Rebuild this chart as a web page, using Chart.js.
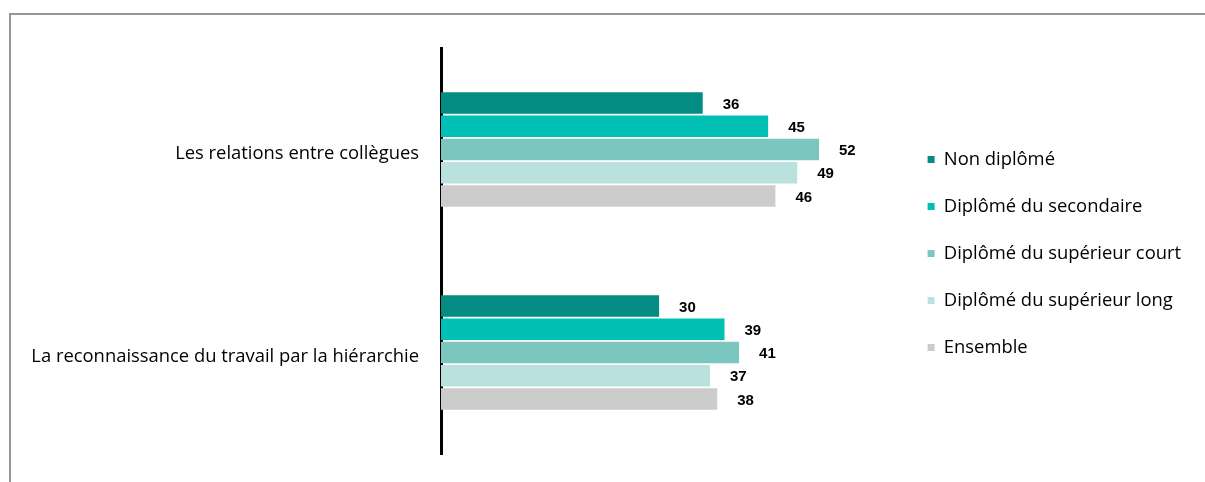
<!DOCTYPE html>
<html>
<head>
<meta charset="utf-8">
<script src="https://cdn.jsdelivr.net/npm/chart.js@4/dist/chart.umd.min.js"></script>
<style>
  html, body { margin: 0; padding: 0; background: #fff; overflow: hidden; }
  #frame { position: absolute; left: 9px; top: 13px; width: 1300px; height: 600px; border: 2px solid #969696; }
  #wrap { position: absolute; left: 0; top: 0; width: 1205px; height: 482px; }
</style>
</head>
<body>
<div id="frame"></div>
<div id="wrap"><canvas id="chart"></canvas></div>
<script>
// catégories et séries
const categories = ["Les relations entre collègues", "La reconnaissance du travail par la hiérarchie"];
const seriesNames = ["Non diplômé", "Diplômé du secondaire", "Diplômé du supérieur court", "Diplômé du supérieur long", "Ensemble"];
const nonDiplome = [36, 30];
const secondaire = [45, 39];
const superieurCourt = [52, 41];
const superieurLong = [49, 37];
const ensemble = [46, 38];
const colors = ["#038C82", "#00BFB4", "#7BC6BF", "#B9E2DF", "#CCCCCC"];

const seriesValues = [nonDiplome, secondaire, superieurCourt, superieurLong, ensemble];

const textFont = "Open Sans";
const textSize = 18.4;
const legendPadding = 47 - textSize;
const plotRight = 899;

// largeur de la légende -> marge droite pour garder la zone du graphique
const mctx = document.createElement("canvas").getContext("2d");
mctx.font = textSize + "px '" + textFont + "'";
const longest = Math.max(...seriesNames.map(s => mctx.measureText(s).width));
const legendWidth = legendPadding + 7 + textSize / 2 + longest + 10;
const rightPad = Math.max(0, 1205 - plotRight - legendWidth);

// étiquettes de valeur à droite des barres
const valueLabels = {
    id: "valueLabels",
    afterDatasetsDraw(chart) {
        const ctx = chart.ctx;
        ctx.save();
        ctx.font = "bold 15px 'Liberation Sans', Arial, sans-serif";
        ctx.fillStyle = "#000";
        ctx.textAlign = "left";
        ctx.textBaseline = "middle";
        chart.data.datasets.forEach((ds, i) => {
            const meta = chart.getDatasetMeta(i);
            meta.data.forEach((bar, j) => {
                ctx.fillText(String(ds.data[j]), bar.x + 20, bar.y + 1.5);
            });
        });
        ctx.restore();
    }
};

const ctx = document.getElementById("chart").getContext("2d");
new Chart(ctx, {
    type: "bar",
    data: {
        labels: categories,
        datasets: seriesNames.map((name, i) => ({
            label: name,
            data: seriesValues[i],
            backgroundColor: colors[i],
            borderWidth: 0,
            categoryPercentage: 0.573,
            barPercentage: 0.927
        }))
    },
    options: {
        indexAxis: "y",
        responsive: true,
        maintainAspectRatio: false,
        animation: false,
        layout: { padding: { top: 48, bottom: 23, left: 0, right: rightPad } },
        scales: {
            x: {
                min: 0,
                max: 63,
                grid: { display: false, drawTicks: false },
                border: { display: false },
                ticks: { display: false },
                afterFit: s => { s.height = 5; }
            },
            y: {
                grid: { display: false, drawTicks: false },
                border: { display: true, color: "#000", width: 3 },
                ticks: {
                    padding: 22,
                    labelOffset: 4,
                    color: "#000",
                    font: { family: textFont, size: textSize }
                },
                afterFit: s => {
                    s.width = 441;
                    // pas de marge verticale due aux étiquettes
                    s.paddingTop = 0;
                    s.paddingBottom = 0;
                }
            }
        },
        plugins: {
            legend: {
                position: "right",
                align: "center",
                labels: {
                    boxWidth: 7,
                    boxHeight: 7,
                    padding: legendPadding,
                    color: "#000",
                    font: { family: textFont, size: textSize }
                }
            },
            tooltip: { enabled: false }
        }
    },
    plugins: [valueLabels]
});
</script>
</body>
</html>
